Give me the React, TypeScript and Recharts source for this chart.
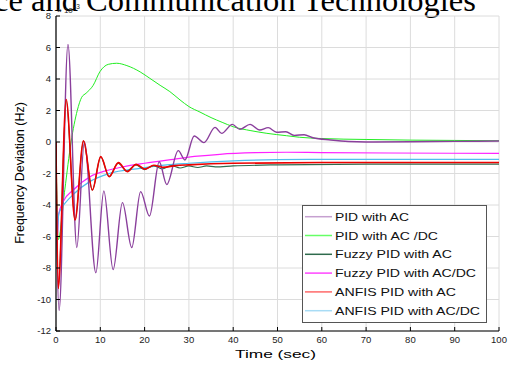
import React from 'react';
import { LineChart, Line, XAxis, YAxis, CartesianGrid, Legend, Label } from 'recharts';

const xTicks = [0, 10, 20, 30, 40, 50, 60, 70, 80, 90, 100];
const yTicks = [-12, -10, -8, -6, -4, -2, 0, 2, 4, 6, 8];

// PID with AC
const pidAcT = [0, 0.15, 0.7, 2.7, 4.7, 6.4, 9.0, 10.8, 12.9, 15.0, 17.1, 19.1, 21.1, 23.3, 25.0, 27.6, 29.1, 31.2, 33.4, 35.9, 37.4, 39.8, 41.5, 43.8, 46.0, 47.9, 49.8, 51.9, 53.8, 56.0, 58.0, 62.0, 66.0, 70.0, 80.0, 90.0, 100.0];
const pidAcV = [0, -5.0, -10.7, 6.2, -6.7, 0.0, -8.3, -3.1, -8.1, -3.85, -6.7, -3.15, -4.7, -1.25, -2.7, -0.55, -1.14, 0.38, -0.04, 0.93, 0.55, 1.12, 0.8, 1.12, 0.76, 0.91, 0.62, 0.65, 0.42, 0.46, 0.27, 0.13, 0.03, 0.0, 0.02, 0.04, 0.06];

// PID with AC/DC
const pidAcDcT = [0, 0.5, 2.0, 3.4, 4.8, 5.8, 6.8, 8.4, 9.9, 11.8, 13.7, 16.0, 19.0, 21.2, 23.5, 25.7, 28.0, 30.0, 32.5, 35.0, 37.5, 40.0, 44.0, 47.6, 52.0, 55.0, 60.0, 70.0, 80.0, 90.0, 100.0];
const pidAcDcV = [0, -6.2, -3.0, 0.0, 2.0, 2.84, 3.1, 3.6, 4.46, 4.93, 5.0, 4.85, 4.45, 4.04, 3.6, 3.2, 2.67, 2.25, 1.9, 1.55, 1.25, 0.97, 0.72, 0.55, 0.4, 0.3, 0.22, 0.16, 0.12, 0.1, 0.08];

// Fuzzy PID with AC
const fuzzyAcT = [0, 0.5, 2.3, 4.3, 6.2, 8.2, 10.1, 12.0, 14.0, 16.0, 18.0, 20.0, 22.0, 24.0, 26.0, 28.0, 30.0, 32.0, 34.0, 36.0, 40.0, 50.0, 70.0, 100.0];
const fuzzyAcV = [0, -9.3, 2.6, -4.95, 0.05, -3.05, -0.95, -2.2, -1.35, -1.85, -1.45, -1.75, -1.5, -1.7, -1.5, -1.65, -1.52, -1.62, -1.52, -1.58, -1.52, -1.45, -1.4, -1.4];

// Fuzzy PID with AC/DC
const fuzzyAcDcT = [0, 0.2, 0.6, 1.6, 3.9, 7.7, 11.0, 15.2, 20.0, 26.5, 32.0, 37.0, 45.0, 52.0, 60.0, 75.0, 100.0];
const fuzzyAcDcV = [0, -6.5, -4.6, -3.8, -3.05, -2.2, -1.85, -1.57, -1.35, -1.1, -0.9, -0.78, -0.68, -0.65, -0.67, -0.7, -0.72];

// ANFIS PID with AC
const anfisAcT = [0, 0.5, 2.3, 4.3, 6.2, 8.2, 10.1, 12.0, 14.1, 16.1, 18.1, 20.1, 22.1, 24.1, 27.0, 30.0, 40.0, 60.0, 100.0];
const anfisAcV = [0, -9.3, 2.7, -4.95, 0.08, -3.05, -0.93, -2.2, -1.31, -1.88, -1.42, -1.72, -1.48, -1.6, -1.5, -1.45, -1.35, -1.3, -1.3];

// ANFIS PID with AC/DC
const anfisAcDcT = [0, 0.2, 0.6, 1.0, 2.0, 4.0, 7.7, 12.0, 19.0, 25.0, 30.0, 40.0, 50.0, 60.0, 100.0];
const anfisAcDcV = [0, -6.2, -4.6, -4.3, -3.9, -3.3, -2.5, -2.0, -1.67, -1.45, -1.35, -1.2, -1.12, -1.1, -1.1];

const zip = (t: number[], v: number[]) => t.map((x, i) => ({ t: x, v: v[i] }));

const series = [
  { name: 'PID with AC', data: zip(pidAcT, pidAcV), color: '#8a3f9c', legendColor: '#c6a0d0', width: 1.4, textW: 74 },
  { name: 'PID with AC /DC', data: zip(pidAcDcT, pidAcDcV), color: '#22ee22', legendColor: '#66ff66', width: 1, textW: 103 },
  { name: 'Fuzzy PID with AC', data: zip(fuzzyAcT, fuzzyAcV), color: '#2f6b4d', legendColor: '#2f6b4d', width: 1.2, textW: 117 },
  { name: 'Fuzzy PID with AC/DC', data: zip(fuzzyAcDcT, fuzzyAcDcV), color: '#ff22ff', legendColor: '#ff44ff', width: 1.2, textW: 141 },
  { name: 'ANFIS PID with AC', data: zip(anfisAcT, anfisAcV), color: '#ee0000', legendColor: '#ff6a6a', width: 1.6, textW: 121 },
  { name: 'ANFIS PID with AC/DC', data: zip(anfisAcDcT, anfisAcDcV), color: '#4DBEEE', legendColor: '#a8dcf5', width: 1.2, textW: 145 },
];

const drawOrder = [1, 3, 5, 2, 0, 4];

const sans = '"Liberation Sans", Arial, sans-serif';

const LegendBox = () => (
  <svg width={186} height={119} style={{ display: 'block' }}>
    <rect x={0.5} y={0.5} width={184} height={117} fill="#fff" stroke="#555" strokeWidth={1} />
    {series.map((s, i) => {
      const y = 11.7 + i * 18.8;
      return (
        <g key={s.name}>
          <line x1={3} x2={30} y1={y} y2={y} stroke={s.legendColor} strokeWidth={1.5} />
          <text x={33} y={y + 4} fontSize={11.5} fontFamily={sans} fill="#111" textLength={s.textW} lengthAdjust="spacingAndGlyphs">
            {s.name}
          </text>
        </g>
      );
    })}
  </svg>
);

export default function App() {
  return (
    <div style={{ position: 'absolute', left: 0, top: 0, width: 521, height: 367, background: '#fff', overflow: 'hidden' }}>
      <div
        style={{
          position: 'absolute',
          left: -6,
          top: -18,
          fontFamily: '"Liberation Serif", "Times New Roman", serif',
          fontSize: 32.5,
          whiteSpace: 'nowrap',
          color: '#000',
          lineHeight: '36px',
        }}
      >
        ce and Communication Technologies
      </div>
      <div style={{ position: 'absolute', left: 0, top: 0 }}>
        <LineChart width={521} height={367} margin={{ top: 16, right: 22, bottom: 6, left: 0 }}>
          <CartesianGrid stroke="#dcdcdc" strokeWidth={1} />
          <XAxis
            type="number"
            dataKey="t"
            domain={[0, 100]}
            ticks={xTicks}
            height={30}
            tickSize={-4}
            tickMargin={9}
            axisLine={{ stroke: '#000', strokeWidth: 1.2 }}
            tickLine={{ stroke: '#000' }}
            tick={{ fontSize: 9.5, fill: '#222', fontFamily: sans }}
            allowDataOverflow
          >
            <Label
              content={() => (
                <text x={275.5} y={357.5} fontSize={11.7} fontFamily={sans} fill="#000" textAnchor="middle" textLength={81} lengthAdjust="spacingAndGlyphs">
                  Time (sec)
                </text>
              )}
            />
          </XAxis>
          <XAxis
            xAxisId="top"
            orientation="top"
            type="number"
            dataKey="t"
            domain={[0, 100]}
            ticks={xTicks}
            height={0}
            tickSize={-4}
            tick={false}
            axisLine={{ stroke: '#000', strokeWidth: 1.2 }}
            tickLine={{ stroke: '#000' }}
          />
          <YAxis
            type="number"
            domain={[-12, 8]}
            ticks={yTicks}
            width={56}
            tickSize={-4}
            tickMargin={9}
            axisLine={{ stroke: '#000', strokeWidth: 1.2 }}
            tickLine={{ stroke: '#000' }}
            tick={{ fontSize: 9.5, fill: '#222', fontFamily: sans }}
            allowDataOverflow
          >
            <Label
              content={() => (
                <g>
                  <text x={23.5} y={173} transform="rotate(-90 23.5 173)" fontSize={12.5} fontFamily={sans} fill="#000" textAnchor="middle">
                    Frequency Deviation (Hz)
                  </text>
                  <text x={57} y={13} fontSize={8} fontFamily={sans} fill="#222">
                    × 10
                  </text>
                  <text x={74} y={9} fontSize={6.5} fontFamily={sans} fill="#222">
                    -3
                  </text>
                </g>
              )}
            />
          </YAxis>
          <YAxis
            yAxisId="right"
            orientation="right"
            type="number"
            domain={[-12, 8]}
            ticks={yTicks}
            width={0}
            tickSize={-4}
            tick={false}
            axisLine={{ stroke: '#000', strokeWidth: 1.2 }}
            tickLine={{ stroke: '#000' }}
          />
          <Legend
            layout="vertical"
            align="center"
            verticalAlign="middle"
            wrapperStyle={{ left: 302, top: 205, width: 186, height: 119 }}
            content={() => <LegendBox />}
          />
          {drawOrder.map((i) => {
            const s = series[i];
            return (
              <Line
                key={s.name}
                data={s.data}
                dataKey="v"
                name={s.name}
                type="monotone"
                stroke={s.color}
                strokeWidth={s.width}
                dot={false}
                activeDot={false}
                isAnimationActive={false}
              />
            );
          })}
        </LineChart>
      </div>
    </div>
  );
}
